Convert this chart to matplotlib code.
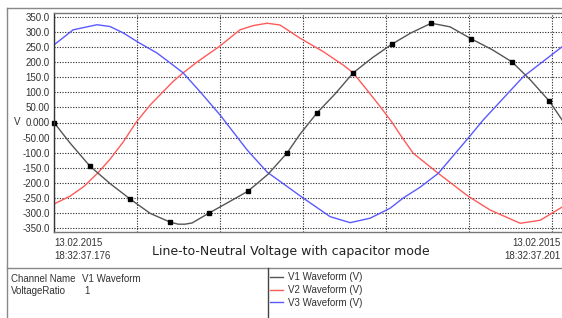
import numpy as np
import matplotlib.pyplot as plt
from matplotlib.lines import Line2D

# time in ms from 18:32:37.176, voltage in V
t_v1 = [0, 0.77, 1.73, 2.70, 3.66, 4.63, 5.59, 5.98, 6.31, 6.65, 7.47, 8.48, 9.35, 10.31, 11.23,
        11.86, 12.67, 13.54, 14.41, 15.33, 16.29, 17.20, 18.17, 19.08, 20.10, 21.11, 22.07,
        22.94, 23.86, 24.48, 25.0]
v1 = [0, -68, -145, -203, -254, -302, -331, -338, -338, -334, -301, -262, -228, -172, -101,
      -38, 32, 95, 165, 215, 261, 298, 330, 318, 278, 242, 201, 142, 71, 8, -45]
v1_marks = [0, 2, 4, 6, 10, 12, 14, 16, 18, 20, 22, 24, 26, 28]

t_v2 = [0, 0.77, 1.45, 2.12, 2.70, 3.33, 3.95, 4.63, 5.73, 6.22, 6.89, 7.95, 8.96, 9.59,
        10.27, 10.89, 11.86, 12.96, 13.93, 14.41, 15.08, 15.71, 16.29, 16.67, 17.30, 18.51,
        19.95, 21.01, 22.46, 23.42, 24.48, 25.0]
v2 = [-271, -245, -212, -167, -122, -65, 0, 58, 136, 165, 201, 252, 308, 322,
      330, 324, 280, 236, 191, 165, 108, 53, 0, -40, -102, -169,
      -245, -291, -335, -325, -281, -245]

t_v3 = [0, 0.92, 2.07, 2.70, 3.33, 4.00, 4.96, 5.73, 6.22, 7.04, 8.00, 9.30, 10.27, 12.00,
        13.30, 14.27, 15.23, 16.19, 16.82, 17.64, 18.51, 19.95, 20.67, 22.60, 24.48, 25.0]
v3 = [258, 308, 325, 319, 298, 269, 231, 191, 165, 102, 25, -91, -165, -251,
      -313, -333, -318, -285, -251, -215, -169, -52, 8, 152, 252, 275]

y_ticks = np.arange(-350, 351, 50)
y_labels = ['-350.0', '-300.0', '-250.0', '-200.0', '-150.0', '-100.0', '-50.00', '0.000',
            '50.00', '100.0', '150.0', '200.0', '250.0', '300.0', '350.0']
series_names = ['V1 Waveform (V)', 'V2 Waveform (V)', 'V3 Waveform (V)']
series_colors = ['#555555', '#ff5a5a', '#5a5aff']

plt.rcParams['font.family'] = ['Liberation Sans', 'DejaVu Sans']

W, H = 562, 318
fig = plt.figure(figsize=(W / 100, H / 100), dpi=100)

# plot box in pixel coords: x 54..573, y 13..232
ax = fig.add_axes([54 / W, 1 - 232 / H, 519 / W, 219 / H])
ax.set_xlim(0, 25)
ax.set_ylim(-364, 364)

ax.plot(t_v2, v2, color=series_colors[1], lw=1.0)
ax.plot(t_v3, v3, color=series_colors[2], lw=1.0)
ax.plot(t_v1, v1, color=series_colors[0], lw=1.0, marker='s', markersize=3,
        markerfacecolor='black', markeredgecolor='black', markevery=v1_marks, clip_on=False)

ax.set_yticks(y_ticks)
ax.set_yticklabels(y_labels)
ax.set_xticks(np.arange(0, 25, 4))
ax.set_xticklabels([])
ax.tick_params(length=0, labelsize=7, colors='#333333', pad=3)
ax.grid(True, color='#222222', linestyle=(0, (1, 1.4)), lw=0.8)
for side in ['left', 'bottom', 'top', 'right']:
    ax.spines[side].set_color('#777777')
    ax.spines[side].set_linewidth(1)
ax.spines['left'].set_color('#333333')

fig.text(14 / W, 1 - 122 / H, 'V', fontsize=7, color='#333333', va='center')

# time labels and title
fig.text(54 / W, 1 - 243 / H, '13.02.2015', fontsize=7, color='#333333', va='center')
fig.text(54 / W, 1 - 256 / H, '18:32:37.176', fontsize=7, color='#333333', va='center')
fig.text(561 / W, 1 - 243 / H, '13.02.2015', fontsize=7, color='#333333', va='center', ha='right')
fig.text(561 / W, 1 - 256 / H, '18:32:37.201', fontsize=7, color='#333333', va='center', ha='right')
fig.text(291 / W, 1 - 252 / H, 'Line-to-Neutral Voltage with capacitor mode', fontsize=9,
         color='#222222', va='center', ha='center', family='DejaVu Sans')

# frame lines
frame = dict(color='#888888', lw=1)
fig.add_artist(Line2D([7 / W, 7 / W], [0, 1 - 8 / H], **frame))
fig.add_artist(Line2D([7 / W, 1], [1 - 8 / H, 1 - 8 / H], **frame))
fig.add_artist(Line2D([7 / W, 1], [1 - 268 / H, 1 - 268 / H], **frame))
fig.add_artist(Line2D([268 / W, 268 / W], [0, 1 - 268 / H], color='#444444', lw=1))

# info panel
fig.text(11 / W, 1 - 279 / H, 'Channel Name', fontsize=7, color='#333333', va='center')
fig.text(82 / W, 1 - 279 / H, 'V1 Waveform', fontsize=7, color='#333333', va='center')
fig.text(11 / W, 1 - 291 / H, 'VoltageRatio', fontsize=7, color='#333333', va='center')
fig.text(84 / W, 1 - 291 / H, '1', fontsize=7, color='#333333', va='center')

# legend
handles = [Line2D([], [], color=c, lw=1) for c in series_colors]
fig.legend(handles, series_names, loc='upper left', bbox_to_anchor=(270 / W, 1 - 272 / H),
           frameon=False, fontsize=7, handlelength=1.3, handletextpad=0.6,
           labelspacing=0.3, borderaxespad=0, borderpad=0, labelcolor='#333333')

fig.savefig('out.png', dpi=100)
